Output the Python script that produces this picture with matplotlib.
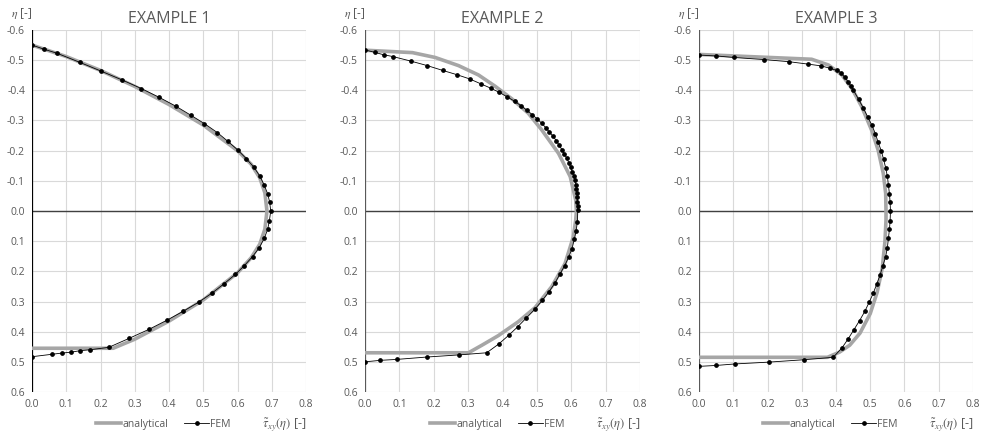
import matplotlib
matplotlib.use('Agg')
import matplotlib.pyplot as plt

# ---- data (x = tau_xy, eta = depth) ----
titles = ['EXAMPLE 1', 'EXAMPLE 2', 'EXAMPLE 3']

ex1_fem_x = [0.0, 0.036, 0.073, 0.139, 0.201, 0.264, 0.319, 0.371, 0.419, 0.463, 0.503,
             0.541, 0.572, 0.601, 0.626, 0.648, 0.665, 0.678, 0.688, 0.694, 0.697,
             0.693, 0.688, 0.678, 0.664, 0.644, 0.620, 0.594, 0.561, 0.527, 0.487,
             0.442, 0.394, 0.342, 0.284, 0.224, 0.169, 0.141, 0.114, 0.087, 0.058, 0.0]
ex1_fem_eta = [-0.550, -0.536, -0.523, -0.493, -0.464, -0.434, -0.406, -0.377, -0.348, -0.318, -0.290,
               -0.260, -0.231, -0.202, -0.173, -0.145, -0.116, -0.086, -0.057, -0.029, 0.0,
               0.033, 0.061, 0.091, 0.121, 0.151, 0.181, 0.210, 0.241, 0.271, 0.302,
               0.332, 0.362, 0.392, 0.422, 0.452, 0.460, 0.463, 0.468, 0.471, 0.475, 0.483]
ex1_ana_x = [0.0, 0.1, 0.2, 0.3, 0.4, 0.5, 0.6, 0.64, 0.665, 0.68, 0.686,
             0.68, 0.665, 0.64, 0.6, 0.5, 0.4, 0.3, 0.237, 0.0]
ex1_ana_eta = [-0.550, -0.512, -0.466, -0.413, -0.353, -0.285, -0.200, -0.155, -0.110, -0.06, 0.0,
               0.06, 0.11, 0.155, 0.205, 0.295, 0.365, 0.425, 0.455, 0.455]

ex2_fem_x = [0.0, 0.028, 0.054, 0.081, 0.133, 0.181, 0.226, 0.267, 0.304, 0.336, 0.366,
             0.391, 0.414, 0.435, 0.455, 0.471, 0.487, 0.501, 0.514, 0.526, 0.536,
             0.547, 0.557, 0.565, 0.573, 0.580, 0.587, 0.593, 0.598, 0.603, 0.607,
             0.610, 0.613, 0.615, 0.617, 0.618, 0.618, 0.619, 0.619,
             0.618, 0.614, 0.609, 0.602, 0.593, 0.581, 0.567, 0.553, 0.535, 0.516,
             0.494, 0.469, 0.444, 0.418, 0.389, 0.354, 0.273, 0.181, 0.092, 0.045, 0.0]
ex2_fem_eta = [-0.534, -0.526, -0.518, -0.512, -0.497, -0.482, -0.466, -0.452, -0.438, -0.422, -0.407,
               -0.393, -0.378, -0.364, -0.348, -0.334, -0.319, -0.305, -0.291, -0.276, -0.262,
               -0.248, -0.232, -0.218, -0.203, -0.189, -0.175, -0.160, -0.145, -0.130, -0.116,
               -0.102, -0.087, -0.073, -0.059, -0.045, -0.031, -0.015, -0.003,
               0.036, 0.066, 0.094, 0.125, 0.152, 0.181, 0.209, 0.238, 0.268, 0.296,
               0.326, 0.355, 0.384, 0.412, 0.441, 0.470, 0.477, 0.484, 0.492, 0.495, 0.500]
ex2_ana_x = [0.0, 0.138, 0.204, 0.272, 0.33, 0.378, 0.427, 0.475, 0.514, 0.563, 0.597, 0.613, 0.615,
             0.613, 0.606, 0.582, 0.543, 0.495, 0.446, 0.388, 0.34, 0.301, 0.0]
ex2_ana_eta = [-0.533, -0.525, -0.509, -0.482, -0.451, -0.414, -0.372, -0.324, -0.269, -0.191, -0.114, -0.036, 0.0,
               0.03, 0.086, 0.174, 0.251, 0.320, 0.367, 0.413, 0.445, 0.470, 0.470]

ex3_fem_x = [0.0, 0.050, 0.101, 0.190, 0.262, 0.318, 0.357, 0.383, 0.402, 0.414, 0.425,
             0.435, 0.443, 0.451, 0.466, 0.480, 0.492, 0.505, 0.515, 0.523, 0.532,
             0.539, 0.545, 0.550, 0.553, 0.556, 0.558, 0.559,
             0.558, 0.556, 0.553, 0.550, 0.545, 0.537, 0.529, 0.519, 0.509, 0.497,
             0.484, 0.469, 0.452, 0.436, 0.418, 0.392, 0.307, 0.203, 0.105, 0.050, 0.0]
ex3_fem_eta = [-0.517, -0.514, -0.509, -0.502, -0.495, -0.487, -0.481, -0.473, -0.466, -0.459, -0.444,
               -0.429, -0.414, -0.400, -0.370, -0.341, -0.313, -0.284, -0.256, -0.228, -0.200,
               -0.171, -0.143, -0.115, -0.086, -0.057, -0.029, 0.0,
               0.033, 0.061, 0.091, 0.121, 0.151, 0.181, 0.211, 0.242, 0.272, 0.302,
               0.333, 0.363, 0.394, 0.423, 0.453, 0.485, 0.493, 0.501, 0.507, 0.512, 0.515]
ex3_ana_x = [0.0, 0.329, 0.378, 0.417, 0.446, 0.475, 0.504, 0.523, 0.538, 0.545, 0.546,
             0.546, 0.543, 0.535, 0.52, 0.50, 0.47, 0.44, 0.41, 0.375, 0.0]
ex3_ana_eta = [-0.519, -0.503, -0.484, -0.451, -0.407, -0.346, -0.268, -0.202, -0.125, -0.059, 0.0,
               0.03, 0.10, 0.19, 0.27, 0.34, 0.405, 0.445, 0.468, 0.485, 0.485]

fem_x = [ex1_fem_x, ex2_fem_x, ex3_fem_x]
fem_eta = [ex1_fem_eta, ex2_fem_eta, ex3_fem_eta]
ana_x = [ex1_ana_x, ex2_ana_x, ex3_ana_x]
ana_eta = [ex1_ana_eta, ex2_ana_eta, ex3_ana_eta]

x_ticks = [0.0, 0.1, 0.2, 0.3, 0.4, 0.5, 0.6, 0.7, 0.8]
y_ticks = [-0.6, -0.5, -0.4, -0.3, -0.2, -0.1, 0.0, 0.1, 0.2, 0.3, 0.4, 0.5, 0.6]

plt.rcParams['font.family'] = ['Open Sans', 'DejaVu Sans']
plt.rcParams['mathtext.fontset'] = 'stix'

txt_col = '#595959'
fig = plt.figure(figsize=(9.85, 4.41), dpi=100)

boxes = [(32, 306), (365, 640), (699, 973)]
left_cols = ['#000000', '#595959', '#595959']

for i in range(3):
    l, r = boxes[i]
    ax = fig.add_axes([l / 985, 1 - 392 / 441, (r - l) / 985, 362 / 441])
    ax.plot(ana_x[i], ana_eta[i], color='#a6a6a6', lw=2.6, label='analytical',
            solid_joinstyle='round', zorder=3)
    ax.plot(fem_x[i], fem_eta[i], color='black', lw=0.6, marker='o', ms=2.4,
            label='FEM', zorder=4)
    ax.set_xlim(0, 0.8)
    ax.set_ylim(0.6, -0.6)
    ax.set_xticks(x_ticks)
    ax.set_yticks(y_ticks)
    ax.set_xticklabels(['%.1f' % v for v in x_ticks])
    ax.set_yticklabels(['%.1f' % v for v in y_ticks])
    ax.tick_params(length=0, labelsize=7.5, labelcolor=txt_col, pad=5)
    ax.grid(True, color='#d9d9d9', lw=0.8)
    ax.set_axisbelow(True)
    for s in ax.spines.values():
        s.set_visible(False)
    ax.axhline(0, color='#404040', lw=1.0, zorder=2)
    ax.axvline(0, color=left_cols[i], lw=1.6, zorder=2)
    ax.set_title(titles[i], fontsize=11.5, color=txt_col, pad=5)
    ax.text(0, 1.045, r'$\eta$ [-]', transform=ax.transAxes, ha='right', va='center',
            fontsize=8.5, color=txt_col)
    ax.text(1.0, -0.09, r'$\tilde{\tau}_{xy}(\eta)$ [-]', transform=ax.transAxes,
            ha='right', va='center', fontsize=9, color=txt_col)
    ax.legend(loc='center', bbox_to_anchor=(0.48, -0.09), ncol=2, frameon=False,
              fontsize=7.5, labelcolor=txt_col, handlelength=2.4, handletextpad=0.1,
              columnspacing=1.5)

fig.savefig('out.png', dpi=100)
